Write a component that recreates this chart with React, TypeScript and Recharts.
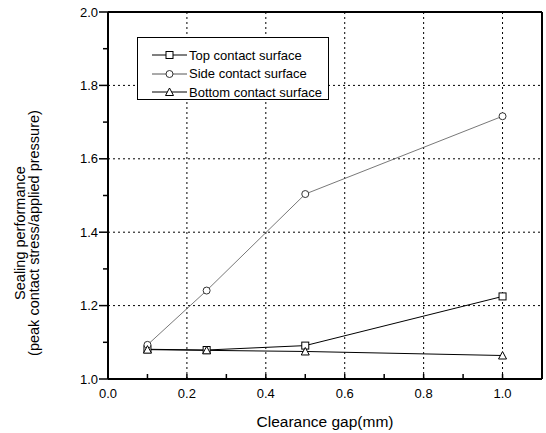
import React from 'react';
import { LineChart, Line, XAxis, YAxis, ReferenceLine } from 'recharts';

const gaps = [0.1, 0.25, 0.5, 1.0];
const topSurface = [1.081, 1.079, 1.091, 1.225];
const sideSurface = [1.093, 1.241, 1.504, 1.716];
const bottomSurface = [1.08, 1.078, 1.075, 1.064];

const xTicks = [0, 0.1, 0.2, 0.3, 0.4, 0.5, 0.6, 0.7, 0.8, 0.9, 1.0, 1.1];
const yTicks = [1.0, 1.1, 1.2, 1.3, 1.4, 1.5, 1.6, 1.7, 1.8, 1.9, 2.0];
const xGrid = [0.2, 0.4, 0.6, 0.8, 1.0];
const yGrid = [1.2, 1.4, 1.6, 1.8];

const data = gaps.map((g, i) => ({
  gap: g,
  top: topSurface[i],
  side: sideSurface[i],
  bottom: bottomSurface[i],
}));

const FONT = '"Liberation Sans", Arial, sans-serif';

const isMajor = (v: number) => Math.round(v * 10) % 2 === 0;

const SquareDot = (props: any) => {
  const { cx, cy } = props;
  if (cx == null || cy == null) return null;
  return <rect x={cx - 3.5} y={cy - 3.5} width={7} height={7} fill="#fff" stroke="#000" strokeWidth={1} />;
};

const CircleDot = (props: any) => {
  const { cx, cy } = props;
  if (cx == null || cy == null) return null;
  return <circle cx={cx} cy={cy} r={3.5} fill="#fff" stroke="#333" strokeWidth={1} />;
};

const TriangleDot = (props: any) => {
  const { cx, cy } = props;
  if (cx == null || cy == null) return null;
  return (
    <polygon
      points={`${cx},${cy - 4} ${cx - 4},${cy + 3.5} ${cx + 4},${cy + 3.5}`}
      fill="#fff"
      stroke="#000"
      strokeWidth={1}
    />
  );
};

const YTick = (props: any) => {
  const { x, y, payload } = props;
  const major = isMajor(payload.value);
  const len = major ? 9 : 5;
  return (
    <g>
      <line x1={x - len} y1={y} x2={x} y2={y} stroke="#000" strokeWidth={1.5} />
      {major && (
        <text x={x - 10} y={y} dy={4.5} textAnchor="end" fontSize={13} fontFamily={FONT} fill="#000">
          {payload.value.toFixed(1)}
        </text>
      )}
    </g>
  );
};

const XTick = (props: any) => {
  const { x, y, payload } = props;
  const major = isMajor(payload.value);
  if (payload.value > 1.05) return null;
  return (
    <g>
      <line x1={x} y1={y} x2={x} y2={y - 5} stroke="#000" strokeWidth={1.5} />
      {major && (
        <text x={x} y={y + 19} textAnchor="middle" fontSize={13} fontFamily={FONT} fill="#000">
          {payload.value.toFixed(1)}
        </text>
      )}
    </g>
  );
};

const legendItems = [
  { name: 'Top contact surface', Dot: SquareDot, color: '#000' },
  { name: 'Side contact surface', Dot: CircleDot, color: '#555' },
  { name: 'Bottom contact surface', Dot: TriangleDot, color: '#000' },
];

export default function App() {
  return (
    <div style={{ position: 'absolute', left: 0, top: 0, width: 546, height: 433, background: '#fff', fontFamily: FONT }}>
      <LineChart width={546} height={433} data={data} margin={{ top: 12, right: 4, bottom: 0, left: 0 }}>
        {xGrid.map((v) => (
          <ReferenceLine key={`gx${v}`} x={v} stroke="#000" strokeDasharray="2 3" />
        ))}
        {yGrid.map((v) => (
          <ReferenceLine key={`gy${v}`} y={v} stroke="#000" strokeDasharray="2 3" />
        ))}
        <ReferenceLine y={2} stroke="#000" strokeWidth={2} />
        <ReferenceLine x={1.1} stroke="#000" strokeWidth={2} />
        <XAxis
          dataKey="gap"
          type="number"
          domain={[0, 1.1]}
          allowDataOverflow
          ticks={xTicks}
          interval={0}
          height={54}
          tickSize={0}
          tickMargin={0}
          tickLine={false}
          axisLine={{ stroke: '#000', strokeWidth: 2 }}
          tick={<XTick />}
          label={{
            content: () => (
              <text x={325} y={427} textAnchor="middle" fontSize={15.5} fontFamily={FONT} fill="#000">
                Clearance gap(mm)
              </text>
            ),
          }}
        />
        <YAxis
          type="number"
          domain={[1, 2]}
          allowDataOverflow
          ticks={yTicks}
          interval={0}
          width={108}
          tickSize={0}
          tickMargin={0}
          tickLine={false}
          axisLine={{ stroke: '#000', strokeWidth: 2 }}
          tick={<YTick />}
          label={{
            content: () => (
              <g>
                <text x={25} y={233} transform="rotate(-90 25 233)" textAnchor="middle" fontSize={14.5} fontFamily={FONT} fill="#000">
                  Sealing performance
                </text>
                <text x={39} y={233} transform="rotate(-90 39 233)" textAnchor="middle" fontSize={14.5} fontFamily={FONT} fill="#000">
                  (peak contact stress/applied pressure)
                </text>
              </g>
            ),
          }}
        />
        <Line dataKey="top" stroke="#000" strokeWidth={1} dot={<SquareDot />} isAnimationActive={false} />
        <Line dataKey="side" stroke="#555" strokeWidth={0.8} dot={<CircleDot />} isAnimationActive={false} />
        <Line dataKey="bottom" stroke="#000" strokeWidth={1} dot={<TriangleDot />} isAnimationActive={false} />
      </LineChart>
      <div
        style={{
          position: 'absolute',
          left: 137,
          top: 37,
          width: 192,
          height: 63,
          border: '1px solid #000',
          background: '#fff',
          boxSizing: 'border-box',
        }}
      >
        {legendItems.map((item, i) => (
          <div key={item.name} style={{ position: 'absolute', left: 13, top: 8 + i * 18.5, height: 18, display: 'flex', alignItems: 'center' }}>
            <svg width={38} height={18}>
              <line x1={1} y1={9} x2={36} y2={9} stroke={item.color} strokeWidth={1} />
              <item.Dot cx={18.5} cy={9} />
            </svg>
            <span style={{ fontSize: 13, color: '#000', whiteSpace: 'nowrap', marginLeft: 0 }}>{item.name}</span>
          </div>
        ))}
      </div>
    </div>
  );
}
